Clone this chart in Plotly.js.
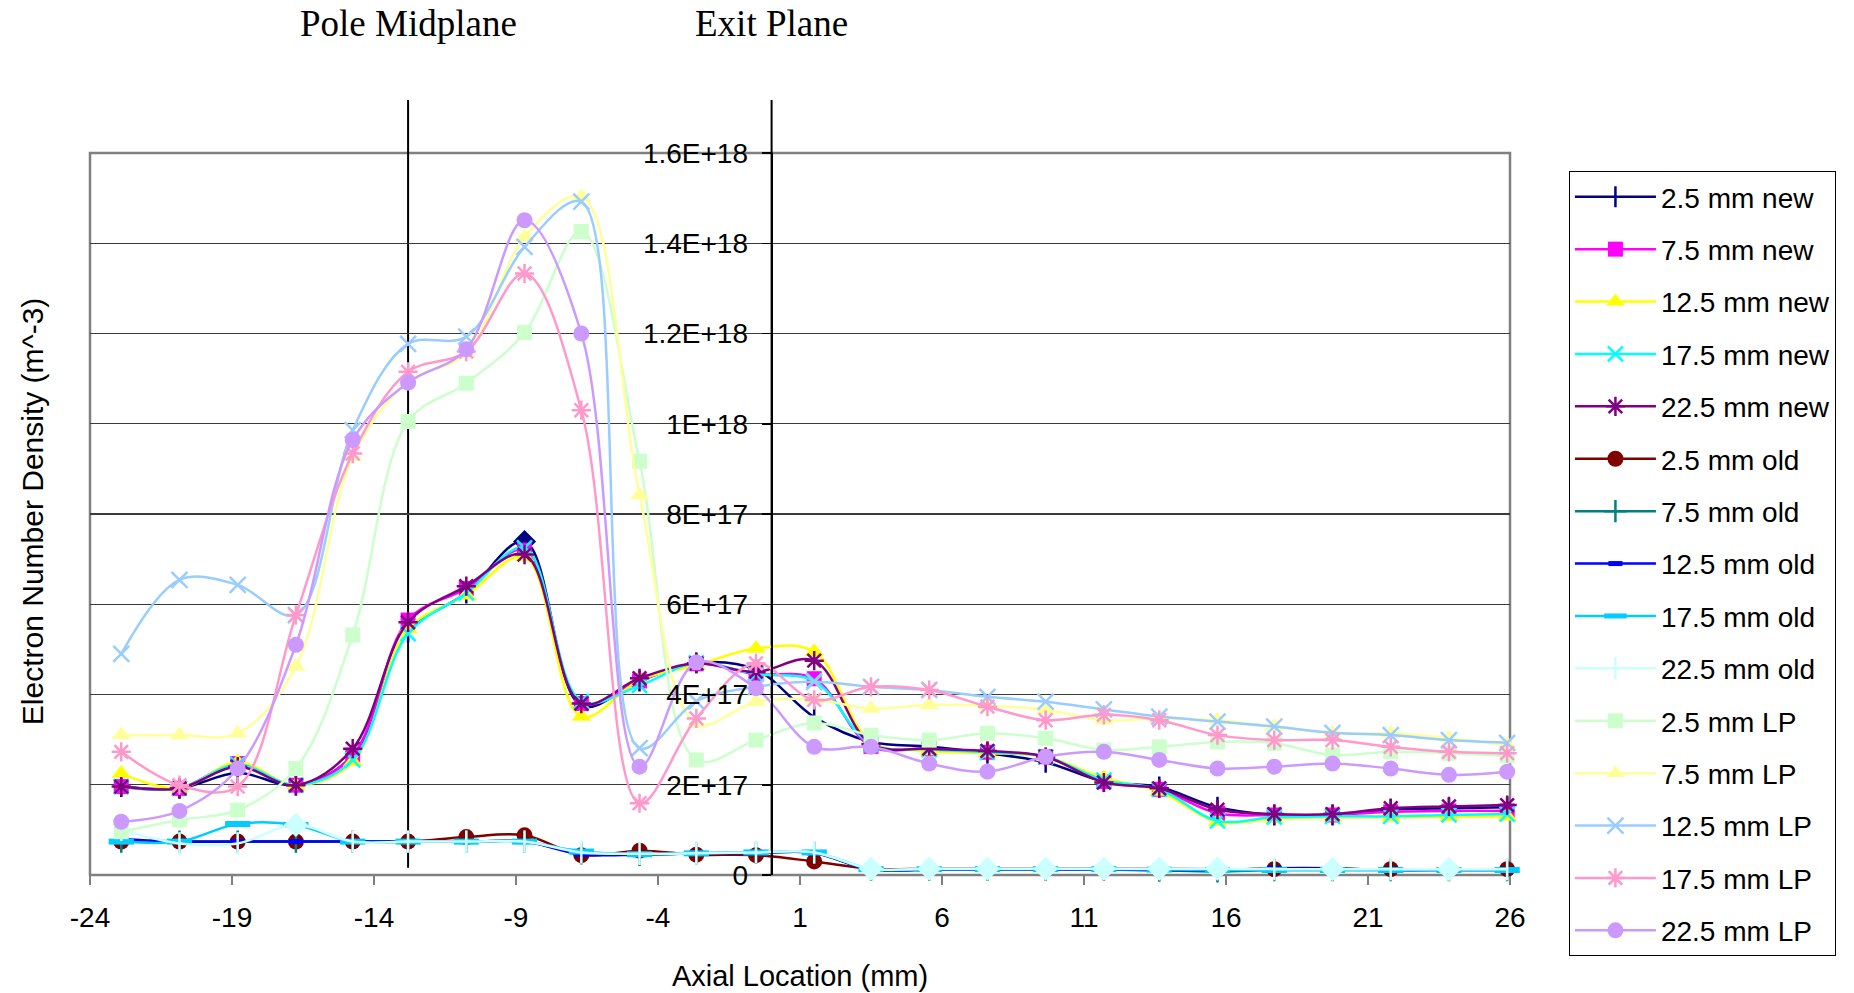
<!DOCTYPE html>
<html>
<head>
<meta charset="utf-8">
<script src="https://cdn.plot.ly/plotly-3.0.1.min.js"></script>
<style>
  html, body { margin: 0; padding: 0; background: #ffffff; }
  #chart { width: 1854px; height: 993px; }
</style>
</head>
<body>
<div id="chart"></div>
<script>
// ---------------- DATA ----------------
// Axial location of each sample (mm)
const axialMm = [-22.9, -20.85, -18.8, -16.75, -14.75, -12.8, -10.75, -8.7, -6.7, -4.65, -2.65, -0.55,
                 1.5, 3.5, 5.55, 7.6, 9.65, 11.7, 13.65, 15.7, 17.7, 19.75, 21.8, 23.85, 25.9];

// Electron number density, in units of 1E+17 m^-3
const new2p5  = [1.96, 1.92, 2.26, 1.99, 2.65, 5.39, 6.25, 7.39, 3.75, 4.30, 4.70, 4.55, 3.50, 2.95, 2.85, 2.70, 2.50, 2.07, 1.95, 1.50, 1.33, 1.33, 1.45, 1.48, 1.50];
const new7p5  = [1.96, 1.92, 2.47, 1.99, 2.65, 5.65, 6.35, 7.20, 3.80, 4.30, 4.68, 4.45, 4.35, 2.85, 2.80, 2.72, 2.62, 2.07, 1.90, 1.37, 1.33, 1.33, 1.40, 1.42, 1.42];
const new12p5 = [2.25, 1.92, 2.50, 1.99, 2.51, 5.45, 6.20, 7.05, 3.51, 4.32, 4.65, 5.02, 4.95, 2.95, 2.75, 2.70, 2.62, 2.15, 1.85, 1.18, 1.25, 1.28, 1.28, 1.29, 1.30];
const new17p5 = [1.96, 1.92, 2.45, 1.99, 2.55, 5.35, 6.25, 7.25, 3.85, 4.20, 4.70, 4.45, 4.30, 2.90, 2.78, 2.72, 2.62, 2.10, 1.90, 1.20, 1.28, 1.30, 1.30, 1.33, 1.35];
const new22p5 = [1.96, 1.92, 2.40, 1.99, 2.80, 5.60, 6.40, 7.10, 3.80, 4.36, 4.69, 4.50, 4.75, 2.90, 2.80, 2.75, 2.62, 2.05, 1.92, 1.45, 1.35, 1.35, 1.48, 1.52, 1.55];

const old2p5  = [0.74, 0.74, 0.74, 0.74, 0.74, 0.74, 0.84, 0.88, 0.44, 0.54, 0.45, 0.44, 0.30, 0.14, 0.14, 0.14, 0.14, 0.14, 0.14, 0.13, 0.13, 0.13, 0.13, 0.13, 0.13];
const old7p5  = [0.74, 0.74, 0.74, 0.74, 0.74, 0.74, 0.74, 0.74, 0.48, 0.45, 0.48, 0.49, 0.49, 0.12, 0.12, 0.12, 0.12, 0.12, 0.10, 0.08, 0.11, 0.11, 0.11, 0.11, 0.11];
const old12p5 = [0.80, 0.74, 0.74, 0.74, 0.74, 0.74, 0.74, 0.74, 0.46, 0.45, 0.48, 0.49, 0.49, 0.12, 0.12, 0.12, 0.12, 0.12, 0.11, 0.11, 0.15, 0.15, 0.11, 0.11, 0.11];
const old17p5 = [0.74, 0.74, 1.13, 1.11, 0.74, 0.74, 0.74, 0.74, 0.52, 0.46, 0.48, 0.50, 0.50, 0.13, 0.13, 0.13, 0.13, 0.13, 0.12, 0.11, 0.11, 0.11, 0.11, 0.11, 0.11];
const old22p5 = [1.00, 0.70, 0.70, 1.11, 0.74, 0.74, 0.74, 0.74, 0.50, 0.47, 0.48, 0.50, 0.50, 0.14, 0.14, 0.14, 0.14, 0.14, 0.14, 0.14, 0.13, 0.13, 0.13, 0.13, 0.13];

const lp2p5   = [0.96, 1.22, 1.44, 2.36, 5.32, 10.05, 10.90, 12.02, 14.26, 9.17, 2.55, 2.99, 3.37, 3.10, 2.99, 3.14, 3.03, 2.77, 2.84, 2.95, 2.92, 2.66, 2.73, 2.70, 2.64];
const lp7p5   = [3.10, 3.10, 3.14, 4.62, 9.27, 10.93, 11.56, 14.14, 15.03, 8.42, 3.36, 3.84, 3.89, 3.69, 3.77, 3.75, 3.66, 3.43, 3.47, 3.43, 3.29, 3.14, 3.14, 3.03, 2.88];
const lp12p5  = [4.90, 6.54, 6.43, 5.76, 9.86, 11.77, 11.93, 13.92, 14.92, 2.81, 3.85, 4.17, 4.28, 4.17, 4.10, 3.95, 3.84, 3.67, 3.51, 3.40, 3.29, 3.15, 3.10, 2.99, 2.93];
const lp17p5  = [2.73, 1.99, 1.96, 5.76, 9.34, 11.15, 11.60, 13.33, 10.30, 1.59, 3.47, 4.69, 3.88, 4.17, 4.10, 3.73, 3.43, 3.55, 3.43, 3.10, 2.99, 2.99, 2.84, 2.73, 2.70];
const lp22p5  = [1.18, 1.42, 2.36, 5.10, 9.64, 10.91, 11.65, 14.51, 12.00, 2.40, 4.71, 4.14, 2.84, 2.84, 2.47, 2.29, 2.62, 2.73, 2.55, 2.36, 2.40, 2.47, 2.36, 2.22, 2.29];

const seriesNames = ['2.5 mm new', '7.5 mm new', '12.5 mm new', '17.5 mm new', '22.5 mm new',
                     '2.5 mm old', '7.5 mm old', '12.5 mm old', '17.5 mm old', '22.5 mm old',
                     '2.5 mm LP', '7.5 mm LP', '12.5 mm LP', '17.5 mm LP', '22.5 mm LP'];
const seriesValues = [new2p5, new7p5, new12p5, new17p5, new22p5,
                      old2p5, old7p5, old12p5, old17p5, old22p5,
                      lp2p5, lp7p5, lp12p5, lp17p5, lp22p5];

const xTickVals = [-24, -19, -14, -9, -4, 1, 6, 11, 16, 21, 26];
const xTickText = ['-24', '-19', '-14', '-9', '-4', '1', '6', '11', '16', '21', '26'];
const yTickVals = [0, 2e17, 4e17, 6e17, 8e17, 1e18, 1.2e18, 1.4e18, 1.6e18];
const yTickText = ['0', '2E+17', '4E+17', '6E+17', '8E+17', '1E+18', '1.2E+18', '1.4E+18', '1.6E+18'];

const poleMidplaneMm = -12.8;
const exitPlaneMm = 0;
const UNIT = 1e17;

// ---------------- STYLES ----------------
const navySymbols = axialMm.map((_, i) => (i === 7 ? 'diamond' : 'line-ns-open'));
const oldDiamondIdx = [3, 13, 14, 15, 16, 17, 18, 19, 21, 23];
const lightCyanSymbols = axialMm.map((_, i) => (oldDiamondIdx.includes(i) ? 'diamond' : 'line-ns-open'));

const styles = [
  { color: '#000080', symbol: navySymbols, size: 15, lw: 2.5, mlw: 2.5 },
  { color: '#FF00FF', symbol: 'square', size: 15, lw: 2.5, mlw: 0 },
  { color: '#FFFF00', symbol: 'triangle-up', size: 17, lw: 2.5, mlw: 0 },
  { color: '#00FFFF', symbol: 'x-thin-open', size: 15, lw: 2.5, mlw: 2.5 },
  { color: '#800080', symbol: 'asterisk-open', size: 16, lw: 2.5, mlw: 2.5 },
  { color: '#800000', symbol: 'circle', size: 16, lw: 2.5, mlw: 0 },
  { color: '#008080', symbol: 'cross-thin-open', size: 16, lw: 2.5, mlw: 2.5 },
  { color: '#0000FF', symbol: 'line-ew-open', size: 10, lw: 2.5, mlw: 5 },
  { color: '#00CCFF', symbol: 'line-ew-open', size: 18, lw: 2.5, mlw: 6 },
  { color: '#CCFFFF', symbol: lightCyanSymbols, size: 16, lw: 2.5, mlw: 2.5 },
  { color: '#CCFFCC', symbol: 'square', size: 15, lw: 2.5, mlw: 0 },
  { color: '#FFFF99', symbol: 'triangle-up', size: 17, lw: 2.5, mlw: 0 },
  { color: '#99CCFF', symbol: 'x-thin-open', size: 16, lw: 2.5, mlw: 2.5 },
  { color: '#FF99CC', symbol: 'asterisk-open', size: 16, lw: 2.5, mlw: 2.5 },
  { color: '#CC99FF', symbol: 'circle', size: 16, lw: 2.5, mlw: 0 }
];

const traces = seriesNames.map((name, k) => {
  const s = styles[k];
  return {
    type: 'scatter',
    mode: 'lines+markers',
    name: name,
    legendgroup: 'g' + k,
    x: axialMm,
    y: seriesValues[k].map(v => v * UNIT),
    cliponaxis: false,
    line: { color: s.color, width: s.lw, shape: 'spline', smoothing: 1 },
    marker: { color: s.color, symbol: s.symbol, size: s.size,
              line: { color: s.color, width: s.mlw } },
    hoverinfo: 'x+y+name'
  };
});

const fontSans = 'Liberation Sans, Arial, sans-serif';
const fontSerif = 'Liberation Serif, Times New Roman, serif';

const layout = {
  width: 1854,
  height: 993,
  margin: { l: 90, r: 344, t: 153, b: 118, pad: 0 },
  paper_bgcolor: '#ffffff',
  plot_bgcolor: '#ffffff',
  showlegend: true,
  font: { family: fontSans, size: 28, color: '#000000' },
  xaxis: {
    range: [-24, 26],
    tickmode: 'array',
    tickvals: xTickVals,
    ticktext: xTickText,
    ticks: 'outside',
    ticklen: 9,
    tickwidth: 1.5,
    tickcolor: '#808080',
    ticklabelstandoff: 8,
    showgrid: false,
    zeroline: false,
    showline: false,
    tickfont: { family: fontSans, size: 28, color: '#000000' },
    title: { text: 'Axial Location (mm)', font: { family: fontSans, size: 29, color: '#000000' }, standoff: 34 }
  },
  yaxis: {
    range: [0, 1.6e18],
    anchor: 'free',
    position: 0.48,
    tickmode: 'array',
    tickvals: yTickVals,
    ticktext: yTickText,
    ticks: 'outside',
    ticklen: 9,
    tickwidth: 1.5,
    tickcolor: '#000000',
    ticklabelstandoff: 8,
    showline: true,
    linecolor: '#000000',
    linewidth: 2,
    showgrid: true,
    gridcolor: '#3a3a3a',
    gridwidth: 1.3,
    zeroline: false,
    tickfont: { family: fontSans, size: 28, color: '#000000' }
  },
  legend: {
    x: 1.0415,
    y: 0.975,
    xanchor: 'left',
    yanchor: 'top',
    bgcolor: '#ffffff',
    bordercolor: '#000000',
    borderwidth: 1,
    font: { family: fontSans, size: 28, color: '#000000' },
    tracegroupgap: 13,
    itemwidth: 81,
    traceorder: 'grouped',
    maxheight: 900
  },
  shapes: [
    { type: 'rect', xref: 'paper', yref: 'paper', x0: 0, x1: 1, y0: 0, y1: 1,
      line: { color: '#808080', width: 2.5 }, layer: 'below' },
    { type: 'line', xref: 'x', yref: 'paper', x0: poleMidplaneMm, x1: poleMidplaneMm, y0: 0.01, y1: 1.0734,
      line: { color: '#000000', width: 2 }, layer: 'below' },
    { type: 'line', xref: 'x', yref: 'paper', x0: exitPlaneMm, x1: exitPlaneMm, y0: 0, y1: 1.0734,
      line: { color: '#000000', width: 2 }, layer: 'below' }
  ],
  annotations: [
    { text: 'Pole Midplane', xref: 'x', yref: 'paper', x: poleMidplaneMm, y: 1.18,
      xanchor: 'center', yanchor: 'middle', showarrow: false,
      font: { family: fontSerif, size: 37, color: '#000000' } },
    { text: 'Exit Plane', xref: 'x', yref: 'paper', x: exitPlaneMm, y: 1.18,
      xanchor: 'center', yanchor: 'middle', showarrow: false,
      font: { family: fontSerif, size: 37, color: '#000000' } },
    { text: 'Electron Number Density (m^-3)', xref: 'paper', yref: 'paper', x: -0.0408, y: 0.504,
      xanchor: 'center', yanchor: 'middle', textangle: -90, showarrow: false,
      font: { family: fontSans, size: 30, color: '#000000' } }
  ]
};

Plotly.newPlot('chart', traces, layout, { displayModeBar: false, staticPlot: true });
</script>
</body>
</html>
